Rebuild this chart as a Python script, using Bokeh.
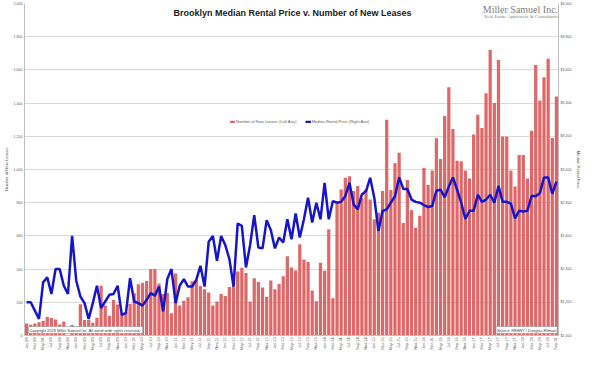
import math
from bokeh.plotting import figure
from bokeh.models import (Range1d, LinearAxis, FixedTicker, SingleIntervalTicker,
                          NumeralTickFormatter, Label, Legend, LegendItem, ColumnDataSource)
from bokeh.embed import file_html
from bokeh.resources import INLINE

# ---------------- data ----------------
month_names = ["Jan", "Feb", "Mar", "Apr", "May", "Jun", "Jul", "Aug", "Sep", "Oct", "Nov", "Dec"]
years = ["08", "09", "10", "11", "12", "13", "14", "15", "16", "17", "18"]
months = [f"{m}-{y}" for y in years for m in month_names][:129]

new_leases = [
    72, 65, 72, 80, 88, 112, 105, 97, 66, 84, 0, 64,
    52, 189, 94, 94, 77, 107, 300, 181, 119, 214, 187, 131,
    140, 190, 255, 308, 318, 328, 400, 400, 313, 250, 256, 134,
    374, 181, 209, 230, 327, 337, 298, 279, 259, 181, 205, 250,
    238, 292, 322, 386, 408, 376, 205, 345, 322, 289, 234, 332,
    279, 310, 357, 478, 410, 392, 550, 458, 443, 271, 207, 439,
    390, 640, 224, 810, 880, 950, 960, 870, 900, 830, 880, 820,
    700, 740, 870, 1300, 877, 1037, 1101, 677, 936, 756, 649, 721,
    1010, 907, 994, 1188, 1063, 1322, 1496, 1244, 1053, 1049, 994, 946,
    1211, 1330, 1250, 1460, 1720, 1400, 1660, 1199, 1199, 994, 897, 1088,
    1088, 946, 1234, 1630, 1415, 1556, 1667, 1190, 1440,
]

median_price = [
    2200, 2200, 2150, 2100, 2320, 2350, 2250, 2400, 2400, 2300, 2250, 2600,
    2330, 2235, 2195, 2100, 2195, 2300, 2165, 2205, 2245, 2250, 2300, 2125,
    2135, 2345, 2205, 2195, 2180, 2215, 2255, 2240, 2295, 2145, 2340, 2400,
    2195, 2300, 2340, 2295, 2295, 2335, 2420, 2295, 2565, 2600, 2450, 2600,
    2545, 2460, 2295, 2675, 2660, 2410, 2545, 2725, 2530, 2525, 2695, 2635,
    2525, 2590, 2560, 2700, 2580, 2735, 2590, 2700, 2830, 2680, 2800, 2700,
    2920, 2700, 2810, 2800, 2805, 2840, 2920, 2790, 2760, 2850, 2870, 2950,
    2830, 2630, 2750, 2760, 2800, 2839, 2952, 2883, 2883, 2819, 2805, 2800,
    2786, 2774, 2780, 2872, 2878, 2833, 2897, 2952, 2878, 2800, 2702, 2751,
    2751, 2848, 2805, 2819, 2848, 2800, 2901, 2805, 2805, 2794, 2706, 2751,
    2747, 2751, 2842, 2839, 2858, 2952, 2952, 2854, 2926,
]

idx = list(range(len(months)))

FONT = "Liberation Sans"
GREY = "#595959"

src = ColumnDataSource(dict(x=idx, leases=new_leases, price=median_price))

p = figure(width=584, height=353,
           x_range=Range1d(-0.5, len(months) - 0.5), y_range=Range1d(0, 2000),
           output_backend="svg", toolbar_location=None,
           min_border_left=17, min_border_right=23, min_border_top=3, min_border_bottom=16)
p.extra_y_ranges = {"price": Range1d(2000, 4000)}
p.outline_line_color = None
p.background_fill_color = "white"

# grid
p.xgrid.visible = False
p.ygrid.grid_line_color = "#d9d9d9"
p.ygrid.grid_line_width = 1
p.ygrid.ticker = SingleIntervalTicker(interval=200, num_minor_ticks=0)


def style_axis(ax, label_size):
    ax.major_label_text_font_size = label_size
    ax.major_label_text_font = FONT
    ax.major_label_text_color = GREY
    ax.major_label_standoff = 2
    ax.major_tick_line_color = None
    ax.minor_tick_line_color = None
    ax.major_tick_out = 0
    ax.major_tick_in = 0
    ax.minor_tick_out = 0
    ax.minor_tick_in = 0
    ax.axis_line_color = "#bfbfbf"
    ax.axis_label_text_font_size = "4.2px"
    ax.axis_label_text_font_style = "normal"
    ax.axis_label_text_font = FONT
    ax.axis_label_text_color = GREY
    ax.axis_label_standoff = 2


# left axis
ya = p.yaxis[0]
ya.ticker = SingleIntervalTicker(interval=200, num_minor_ticks=0)
ya.formatter = NumeralTickFormatter(format="0,0")
ya.axis_label = "Number of New Leases"
style_axis(ya, "3.6px")

# right axis
ra = LinearAxis(y_range_name="price",
                ticker=SingleIntervalTicker(interval=200, num_minor_ticks=0),
                formatter=NumeralTickFormatter(format="$0,0"),
                axis_label="Median Rental Price")
style_axis(ra, "3.6px")
p.add_layout(ra, "right")

# x axis
xa = p.xaxis[0]
xa.ticker = FixedTicker(ticks=idx[::2])
xa.major_label_overrides = {i: months[i] for i in idx[::2]}
xa.major_label_orientation = math.pi / 2
style_axis(xa, "3.8px")

# glyphs
bars = p.vbar(x="x", top="leases", width=0.78, source=src,
              fill_color="#DE6767", line_color=None)
line = p.line(x="x", y="price", source=src, y_range_name="price",
              line_color="#1616C8", line_width=2.5)

legend = Legend(items=[LegendItem(label="Number of New Leases (Left Axis)", renderers=[bars]),
                       LegendItem(label="Median Rental Price (Right Axis)", renderers=[line])],
                orientation="horizontal", location=(205, 211),
                label_text_font_size="4px", label_text_font=FONT, label_text_color=GREY,
                glyph_width=6, glyph_height=3, label_height=4, label_standoff=1,
                spacing=8, padding=0, margin=0,
                border_line_color=None, background_fill_alpha=0)
p.add_layout(legend)

# annotations (y in screen units from the frame's bottom)
x_right = len(months) - 0.6
p.add_layout(Label(x=268, y=323, x_units="screen", y_units="screen",
                   text="Brooklyn Median Rental Price v. Number of New Leases",
                   text_font=FONT, text_font_style="bold", text_font_size="9px",
                   text_color="#1a1a1a", text_align="center", text_baseline="middle"))
p.add_layout(Label(x=x_right, y=326, x_units="data", y_units="screen",
                   text="Miller Samuel Inc.", text_font="Liberation Serif",
                   text_font_size="10px", text_color="#808080",
                   text_align="right", text_baseline="middle"))
p.add_layout(Label(x=x_right, y=319, x_units="data", y_units="screen",
                   text="Real Estate Appraisers & Consultants", text_font="Liberation Serif",
                   text_font_size="4.9px", text_color="#808080",
                   text_align="right", text_baseline="middle"))
p.add_layout(Label(x=4, y=2, x_units="screen", y_units="screen",
                   text="Copyright 2018 Miller Samuel Inc.  All world wide rights reserved.",
                   text_font=FONT, text_font_size="3.9px", text_color="#404040",
                   text_align="left", text_baseline="bottom", padding=1,
                   background_fill_color="white", border_line_color="#7f7f7f",
                   border_line_width=0.5))
p.add_layout(Label(x=x_right - 0.2, y=2, x_units="data", y_units="screen",
                   text="Source: REBNY / Douglas Elliman",
                   text_font=FONT, text_font_size="3.9px", text_color="#404040",
                   text_align="right", text_baseline="bottom", padding=1,
                   background_fill_color="white", border_line_color="#7f7f7f",
                   border_line_width=0.5))

open("out.html", "w").write(file_html(p, INLINE, title="Brooklyn Median Rental Price v. Number of New Leases"))
